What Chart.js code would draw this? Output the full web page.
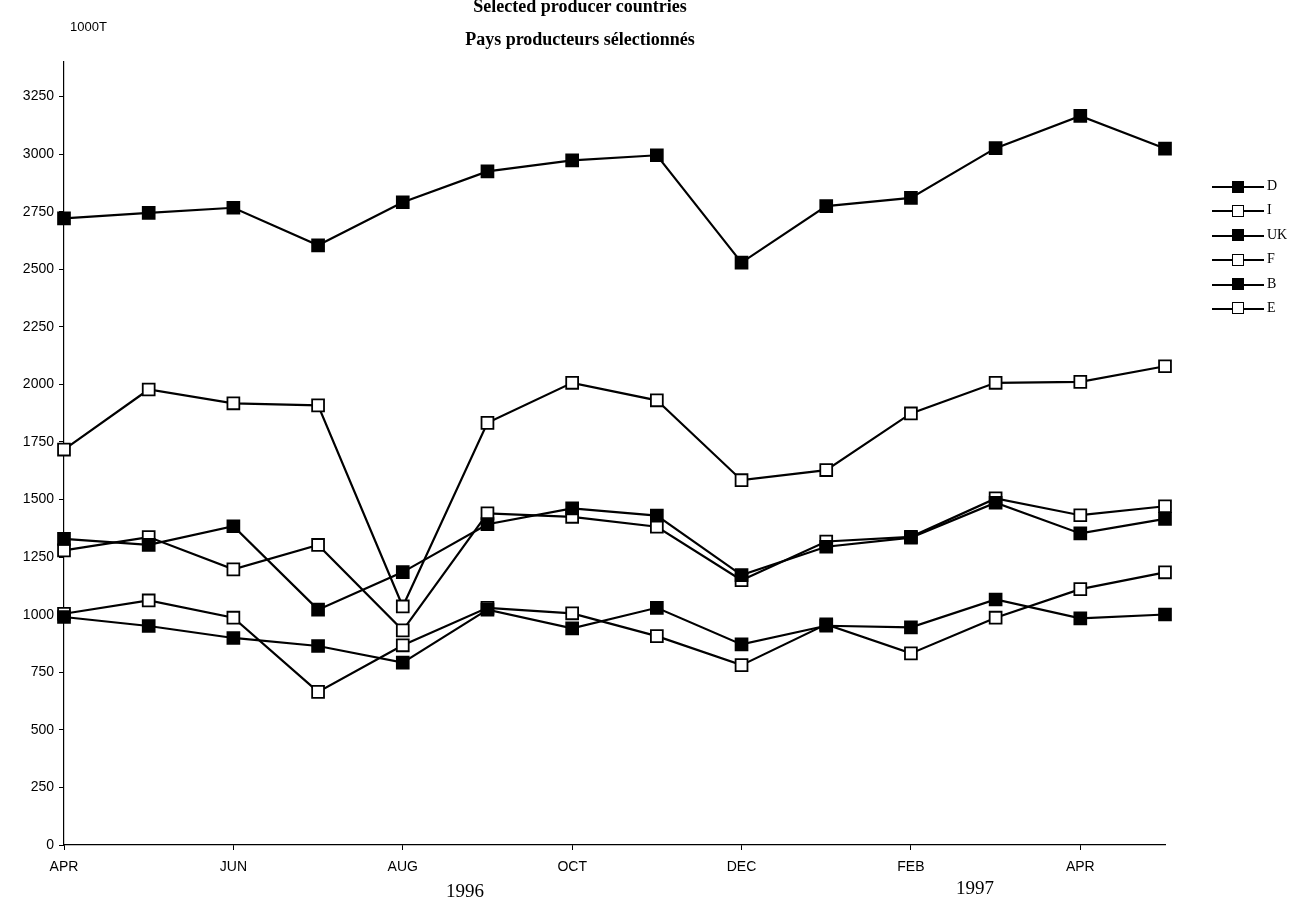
<!DOCTYPE html>
<html>
<head>
<meta charset="utf-8">
<script src="https://cdn.jsdelivr.net/npm/chart.js@4.4.1/dist/chart.umd.min.js"></script>
<style>
  html, body { margin: 0; padding: 0; background: #fff; }
  #wrap { position: relative; width: 1297px; height: 908px; overflow: hidden; }
  #c { position: absolute; left: 0; top: 0; }
  .txt { position: absolute; color: #000; white-space: nowrap; }
  .title { font-family: "Liberation Serif", serif; font-weight: bold; font-size: 18px; left: 580px; transform: translateX(-50%); }
  .year { font-family: "Liberation Serif", serif; font-size: 19px; transform: translateX(-50%); }
  #legend { position: absolute; left: 1212px; top: 176px; }
  .lg { position: relative; height: 24.4px; width: 90px; }
  .lg .ln { position: absolute; left: 0; top: 10px; width: 52px; border-top: 2px solid #000; }
  .lg .mk { position: absolute; left: 20px; top: 4.5px; width: 10px; height: 10px; border: 1.6px solid #000; }
  .lg .lb { position: absolute; left: 55px; top: 2px; font-family: "Liberation Serif", serif; font-size: 14px; }
</style>
</head>
<body>
<div id="wrap">
  <canvas id="c" width="1297" height="908"></canvas>
  <div class="txt title" style="top:-4px">Selected producer countries</div>
  <div class="txt title" style="top:29px">Pays producteurs sélectionnés</div>
  <div class="txt" style="left:70px; top:19px; font-family:'Liberation Sans',sans-serif; font-size:13px;">1000T</div>
  <div class="txt year" style="left:465px; top:880px;">1996</div>
  <div class="txt year" style="left:975px; top:877px;">1997</div>
  <div id="legend"></div>
</div>
<script>
const months = ["APR","MAY","JUN","JUL","AUG","SEP","OCT","NOV","DEC","JAN","FEB","MAR","APR","MAY"];

const seriesD  = [2721, 2745, 2767, 2604, 2791, 2925, 2973, 2995, 2529, 2774, 2810, 3026, 3166, 3024];
const seriesI  = [1717, 1978, 1918, 1909, 1036, 1833, 2007, 1931, 1584, 1628, 1874, 2007, 2011, 2079];
const seriesUK = [1329, 1303, 1384, 1022, 1185, 1393, 1462, 1430, 1172, 1295, 1335, 1486, 1353, 1416];
const seriesF  = [1279, 1337, 1197, 1303, 932, 1440, 1425, 1382, 1150, 1318, 1338, 1505, 1432, 1471];
const seriesB  = [990, 951, 899, 864, 792, 1022, 941, 1030, 871, 952, 945, 1066, 984, 1001];
const seriesE  = [1004, 1062, 987, 665, 867, 1030, 1006, 907, 781, 958, 832, 987, 1111, 1184];

const names  = ["D", "I", "UK", "F", "B", "E"];
const values = [seriesD, seriesI, seriesUK, seriesF, seriesB, seriesE];
const filled = [true, false, true, false, true, false];

const yMax = 3400;
const yStep = 250;

function ds(i) {
  return {
    label: names[i],
    data: values[i],
    borderColor: "#000",
    borderWidth: 2.2,
    backgroundColor: filled[i] ? "#000" : "#fff",
    pointStyle: "rect",
    pointRadius: 8.4,
    pointHoverRadius: 8.4,
    pointBorderWidth: 1.8,
    pointBorderColor: "#000",
    pointBackgroundColor: filled[i] ? "#000" : "#fff",
    tension: 0,
    fill: false
  };
}

// legend
const lg = document.getElementById("legend");
lg.innerHTML = names.map((n, i) => `
  <div class="lg"><div class="ln"></div>
  <div class="mk" style="background:${filled[i] ? "#000" : "#fff"}"></div>
  <div class="lb">${n}</div></div>`).join("");

new Chart(document.getElementById("c"), {
  type: "line",
  data: { labels: months, datasets: names.map((_, i) => ds(i)) },
  options: {
    responsive: false,
    animation: false,
    events: [],
    layout: { padding: { left: 0, top: 62, right: 132, bottom: 0 } },
    plugins: { legend: { display: false }, tooltip: { enabled: false } },
    scales: {
      x: {
        type: "category",
        offset: false,
        border: { color: "#000", width: 1.2 },
        grid: {
          drawOnChartArea: false,
          drawTicks: true,
          tickLength: 5,
          tickColor: ctx => (ctx.index % 2 === 0 ? "#000" : "rgba(0,0,0,0)")
        },
        ticks: {
          autoSkip: false,
          maxRotation: 0,
          color: "#000",
          padding: 9,
          font: { family: "Liberation Sans", size: 14 },
          callback: (v, i) => (i % 2 === 0 ? months[i] : "")
        },
        afterFit: s => { s.height = 63; }
      },
      y: {
        min: 0,
        max: yMax,
        border: { color: "#000", width: 1.2 },
        grid: { drawOnChartArea: false, drawTicks: true, tickLength: 5, tickColor: "#000" },
        ticks: {
          stepSize: yStep,
          color: "#000",
          padding: 5,
          font: { family: "Liberation Sans", size: 14 },
          callback: v => String(v)
        },
        afterBuildTicks: s => { s.ticks = s.ticks.filter(t => t.value % yStep === 0); },
        afterFit: s => { s.width = 64; }
      }
    }
  }
});
</script>
</body>
</html>
